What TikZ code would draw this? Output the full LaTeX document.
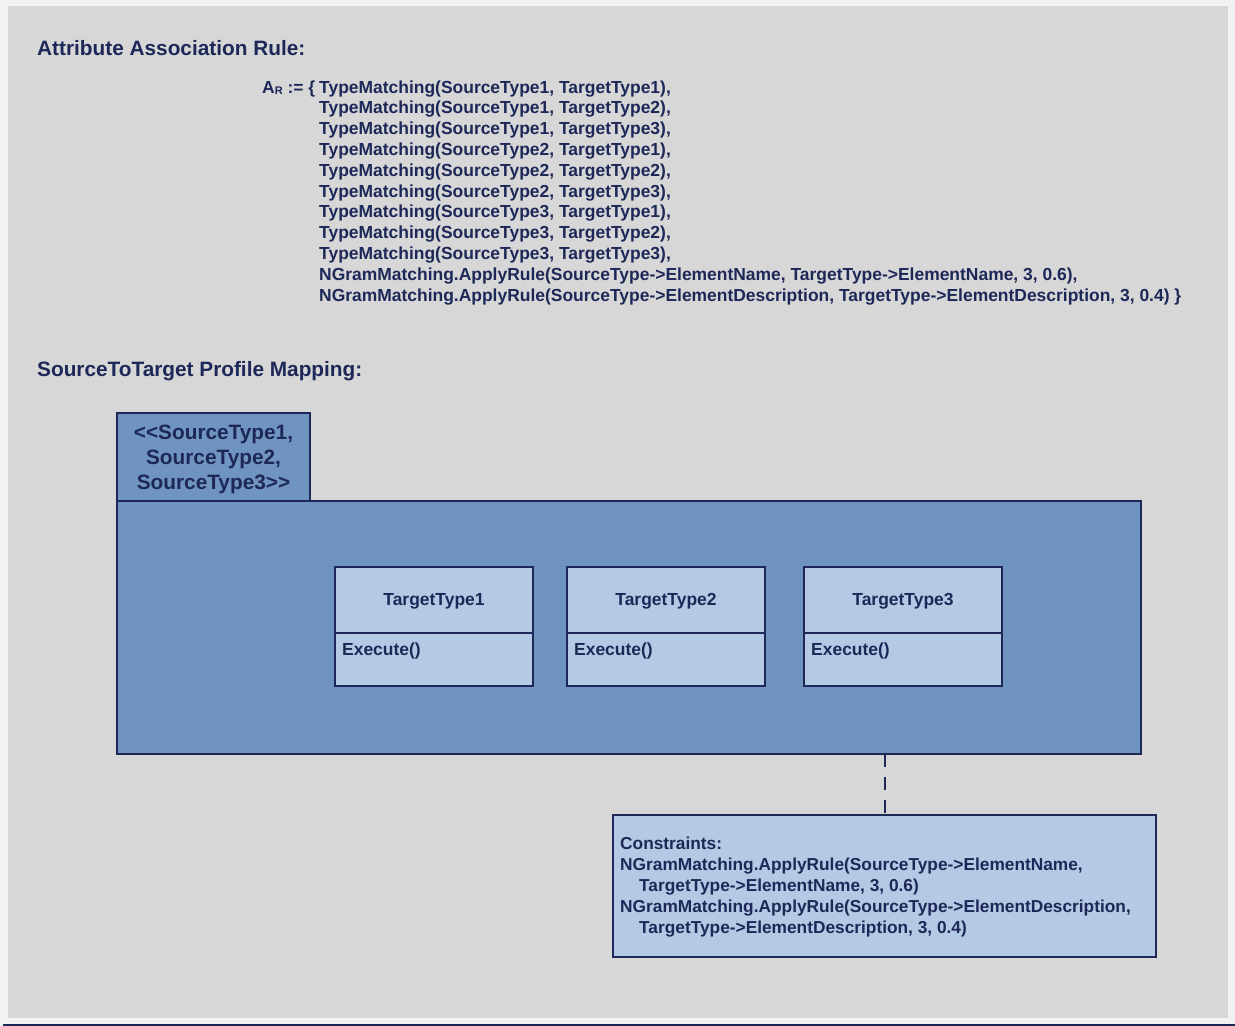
\documentclass[tikz,border=0pt]{standalone}
\usepackage{fontspec}
\setmainfont{Liberation Sans}
\usetikzlibrary{calc}
\definecolor{navy}{HTML}{1D2858}
\definecolor{pagebg}{HTML}{F2F2F2}
\definecolor{panelbg}{HTML}{D7D7D7}
\definecolor{pkgfill}{HTML}{7094C0}
\definecolor{clsfill}{HTML}{B4CAE4}
\begin{document}
\begin{tikzpicture}[x=1pt,y=-1pt,
  bigtext/.style={text=navy, inner sep=0pt, font=\bfseries\fontsize{20.8}{25}\selectfont},
  smalltext/.style={text=navy, inner sep=0pt, font=\bfseries\fontsize{17.45}{20.8}\selectfont},
  pkgbox/.style={draw=navy, line width=2pt, fill=pkgfill, inner sep=0pt, outer sep=0pt, anchor=north west},
  clsbox/.style={draw=navy, line width=2pt, fill=clsfill, inner sep=0pt, outer sep=0pt, anchor=north west,
                 minimum width=198pt, minimum height=119pt},
  divider/.style={draw=navy, line width=2pt},
  anchorline/.style={draw=navy, line width=2pt, dash pattern=on 13pt off 10pt}
]
\useasboundingbox (0,0) rectangle (1235,1026);
% page and panel
\fill[pagebg] (0,0) rectangle (1235,1026);
\fill[panelbg] (8,6) rectangle (1228,1018);
\draw[navy, line width=2pt] (3,1025) -- (1235,1025);

% headings
\node[bigtext, anchor=base west] (hrule) at (37,55) {Attribute Association Rule:};
\node[bigtext, anchor=base west] (hmap) at (37,376.5) {SourceToTarget Profile Mapping:};

% association rule set
\node[smalltext, anchor=base west] (arprefix) at (262,93)
  {A\raisebox{-1.5pt}{\fontsize{11}{11}\selectfont R} := \{};
\node[smalltext, anchor=base west] (arlist) at (319,93) {%
  \begin{tabular}[t]{@{}l@{}}
  TypeMatching(SourceType1, TargetType1),\\
  TypeMatching(SourceType1, TargetType2),\\
  TypeMatching(SourceType1, TargetType3),\\
  TypeMatching(SourceType2, TargetType1),\\
  TypeMatching(SourceType2, TargetType2),\\
  TypeMatching(SourceType2, TargetType3),\\
  TypeMatching(SourceType3, TargetType1),\\
  TypeMatching(SourceType3, TargetType2),\\
  TypeMatching(SourceType3, TargetType3),\\
  NGramMatching.ApplyRule(SourceType->ElementName, TargetType->ElementName, 3, 0.6),\\
  NGramMatching.ApplyRule(SourceType->ElementDescription, TargetType->ElementDescription, 3, 0.4) \}
  \end{tabular}};

% package with tab
\node[pkgbox, minimum width=193pt, minimum height=88pt] (tab) at (117,413) {};
\node[pkgbox, minimum width=1024pt, minimum height=253pt] (body) at (117,501) {};
\node[bigtext, anchor=base] (tabtext) at (213.5,439.5) {%
  \begin{tabular}[t]{@{}c@{}}
  <{}<SourceType1,\\
  SourceType2,\\
  SourceType3>{}>
  \end{tabular}};

% classes
\foreach \name/\x/\label in {t1/335/TargetType1, t2/567/TargetType2, t3/804/TargetType3}{
  \node[clsbox] (\name) at (\x,567) {};
  \draw[divider] ($(\name.north west)+(0,66)$) -- ($(\name.north east)+(0,66)$);
  \node[smalltext, anchor=base] (\name-title) at ($(\name.north)+(0,38)$) {\label};
  \node[smalltext, anchor=base west] (\name-op) at ($(\name.north west)+(7,88)$) {Execute()};
}

% constraint note
\node[pkgbox, fill=clsfill, minimum width=543pt, minimum height=142pt] (cons) at (613,815) {};
\node[smalltext, anchor=base west, font=\bfseries\fontsize{17.3}{21}\selectfont] (constext) at (620,849) {%
  \begin{tabular}[t]{@{}l@{}}
  Constraints:\\
  NGramMatching.ApplyRule(SourceType->ElementName,\\
  \hspace{19pt}TargetType->ElementName, 3, 0.6)\\
  NGramMatching.ApplyRule(SourceType->ElementDescription,\\
  \hspace{19pt}TargetType->ElementDescription, 3, 0.4)
  \end{tabular}};

% note anchor
\draw[anchorline] (body.south -| cons.north) -- (cons.north);
\end{tikzpicture}
\end{document}
